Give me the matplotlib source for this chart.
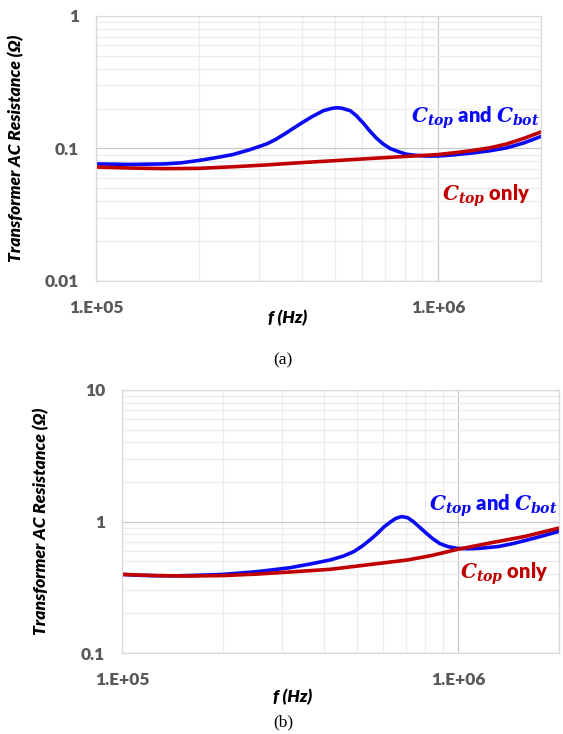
import matplotlib
matplotlib.use("Agg")
import matplotlib.pyplot as plt
from matplotlib.ticker import LogLocator, NullFormatter, FixedLocator, FixedFormatter

plt.rcParams["mathtext.fontset"] = "custom"
plt.rcParams["mathtext.it"] = "DejaVu Serif:italic:bold"
plt.rcParams["mathtext.rm"] = "DejaVu Serif:bold"

# log10 of frequency (Hz) and resistance (ohm)
# panel (a)
lf_a_both = [5.00, 5.10, 5.20, 5.25, 5.30, 5.35, 5.40, 5.45, 5.50, 5.525, 5.55, 5.575,
             5.60, 5.63, 5.665, 5.69, 5.705, 5.72, 5.743, 5.76, 5.782, 5.80, 5.821,
             5.84, 5.86, 5.885, 5.908, 5.94, 5.967, 6.00, 6.035, 6.10, 6.15, 6.20,
             6.25, 6.30]
r_a_both = [0.0765, 0.0758, 0.0765, 0.0780, 0.0812, 0.0852, 0.0900, 0.0980, 0.1085,
            0.117, 0.128, 0.141, 0.155, 0.173, 0.193, 0.201, 0.203, 0.201, 0.193,
            0.178, 0.155, 0.136, 0.119, 0.108, 0.100, 0.0945, 0.0905, 0.0885,
            0.0877, 0.0878, 0.0890, 0.0925, 0.096, 0.101, 0.110, 0.123]
lf_a_top = [5.00, 5.10, 5.20, 5.30, 5.40, 5.50, 5.60, 5.70, 5.80, 5.90, 6.00, 6.05,
            6.10, 6.15, 6.20, 6.25, 6.30]
r_a_top = [0.0725, 0.0712, 0.0705, 0.0708, 0.0728, 0.0752, 0.0782, 0.0810, 0.0840,
           0.0870, 0.0900, 0.0930, 0.0965, 0.101, 0.108, 0.119, 0.133]

# panel (b)
lf_b_both = [5.00, 5.05, 5.10, 5.15, 5.20, 5.30, 5.40, 5.50, 5.56, 5.62, 5.66, 5.69,
             5.715, 5.74, 5.76, 5.78, 5.80, 5.815, 5.832, 5.85, 5.867, 5.885, 5.907,
             5.925, 5.946, 5.97, 5.996, 6.03, 6.065, 6.12, 6.165, 6.23, 6.30]
r_b_both = [0.396, 0.390, 0.387, 0.386, 0.388, 0.396, 0.415, 0.445, 0.475, 0.51, 0.547,
            0.59, 0.65, 0.73, 0.81, 0.91, 0.995, 1.055, 1.09, 1.07, 1.0, 0.91, 0.81,
            0.74, 0.68, 0.645, 0.625, 0.62, 0.625, 0.645, 0.68, 0.75, 0.84]
lf_b_top = [5.00, 5.10, 5.20, 5.30, 5.40, 5.50, 5.62, 5.70, 5.85, 5.92, 6.00, 6.10,
            6.20, 6.30]
r_b_top = [0.396, 0.388, 0.385, 0.388, 0.398, 0.413, 0.433, 0.458, 0.51, 0.55, 0.615,
           0.69, 0.77, 0.89]

blue = "#0A0AF5"
red = "#C00000"
tick_col = "#595959"
font = "Lato"

fig = plt.figure(figsize=(5.63, 7.34), dpi=100)


def hz(lf):
    return [10 ** v for v in lf]


def style_axes(ax, ylo, yhi, ylabels):
    ax.set_xscale("log")
    ax.set_yscale("log")
    ax.set_xlim(1e5, 2e6)
    ax.set_ylim(ylo, yhi)
    ax.xaxis.set_major_locator(FixedLocator([1e5, 1e6]))
    ax.xaxis.set_major_formatter(FixedFormatter(["1.E+05", "1.E+06"]))
    ax.xaxis.set_minor_locator(LogLocator(base=10, subs=range(2, 10)))
    ax.xaxis.set_minor_formatter(NullFormatter())
    ax.yaxis.set_major_locator(FixedLocator(list(ylabels.keys())))
    ax.yaxis.set_major_formatter(FixedFormatter(list(ylabels.values())))
    ax.yaxis.set_minor_locator(LogLocator(base=10, subs=range(2, 10)))
    ax.yaxis.set_minor_formatter(NullFormatter())
    ax.grid(True, which="major", color="#c8c8c8", lw=0.9)
    ax.grid(True, which="minor", color="#ececec", lw=0.9)
    ax.tick_params(which="both", length=0, labelsize=12.5, labelcolor=tick_col, pad=12)
    ax.tick_params(axis="x", pad=14)
    for lab in ax.get_xticklabels() + ax.get_yticklabels():
        lab.set_fontweight("heavy")
        lab.set_family(font)
    for s in ax.spines.values():
        s.set_color("#d9d9d9")
        s.set_linewidth(0.9)
    ax.set_axisbelow(True)
    ax.set_ylabel("Transformer AC Resistance (Ω)", fontsize=12.5, fontweight="heavy",
                  fontstyle="italic", family=font)
    ax.set_xlabel("f (Hz)", fontsize=12.5, fontweight="heavy", fontstyle="italic", family=font)


def labels(ax, y_blue, y_red):
    ax.text(0.997, y_blue, r"$C_{top}$ and $C_{bot}$", transform=ax.transAxes, ha="right",
            va="center", color=blue, fontsize=14.5, fontweight="heavy", family=font)
    ax.text(0.975, y_red, r"$C_{top}$ only", transform=ax.transAxes, ha="right",
            va="center", color=red, fontsize=14.5, fontweight="heavy", family=font)


# panel (a)
ax1 = fig.add_axes([96 / 563, 1 - 281 / 734, 445 / 563, 265 / 734])
style_axes(ax1, 0.01, 1, {0.01: "0.01", 0.1: "0.1", 1: "1"})
ax1.plot(hz(lf_a_both), r_a_both, color=blue, lw=2.6, solid_capstyle="round")
ax1.plot(hz(lf_a_top), r_a_top, color=red, lw=2.6, solid_capstyle="round")
ax1.yaxis.set_label_coords(-0.162, 0.5)
ax1.xaxis.set_label_coords(0.43, -0.11)
labels(ax1, 0.615, 0.32)
fig.text(283 / 563, 1 - 360 / 734, "(a)", ha="center", va="center", fontsize=12.5,
         family="Liberation Serif")

# panel (b)
ax2 = fig.add_axes([122 / 563, 1 - 653 / 734, 437 / 563, 263 / 734])
style_axes(ax2, 0.1, 10, {0.1: "0.1", 1: "1", 10: "10"})
ax2.plot(hz(lf_b_both), r_b_both, color=blue, lw=2.6, solid_capstyle="round")
ax2.plot(hz(lf_b_top), r_b_top, color=red, lw=2.6, solid_capstyle="round")
ax2.yaxis.set_label_coords(-0.167, 0.5)
ax2.xaxis.set_label_coords(0.39, -0.135)
labels(ax2, 0.56, 0.30)
fig.text(283 / 563, 1 - 722 / 734, "(b)", ha="center", va="center", fontsize=12.5,
         family="Liberation Serif")

fig.savefig("out.png", dpi=100)
